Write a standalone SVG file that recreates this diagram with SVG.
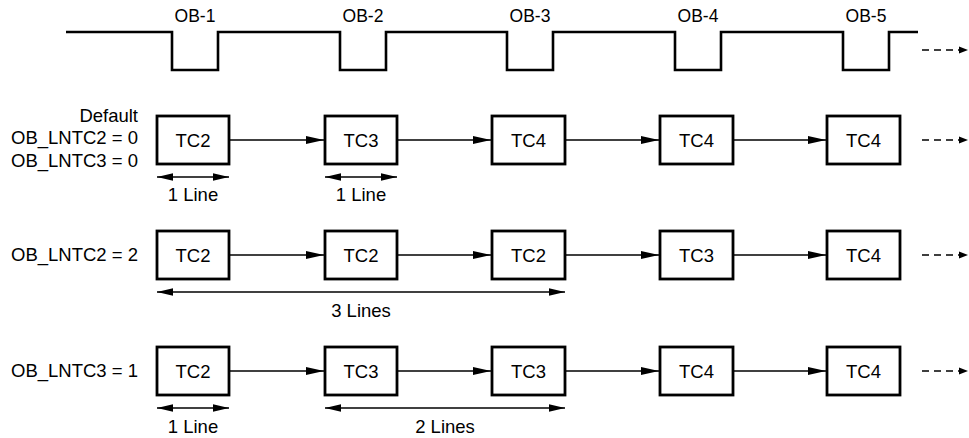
<svg xmlns="http://www.w3.org/2000/svg" width="969" height="438" viewBox="0 0 969 438">
<defs>
<style>
text{font-family:"Liberation Sans",Arial,Helvetica,sans-serif;font-size:18.5px;fill:#000}
.ob{font-size:17.5px}
.lbl{text-anchor:end}
.mid{text-anchor:middle}
.box{fill:#fff;stroke:#000;stroke-width:2.8}
.wave{fill:none;stroke:#000;stroke-width:2.6}
.conn{fill:none;stroke:#000;stroke-width:1.3}
.dash{fill:none;stroke:#000;stroke-width:1.3;stroke-dasharray:7 5}
</style>
<marker id="ah" markerUnits="userSpaceOnUse" markerWidth="19" markerHeight="10" refX="18" refY="5" orient="auto">
<path d="M0,1 L18,5 L0,9 Z" fill="#000"/>
</marker>
<marker id="ahs" markerUnits="userSpaceOnUse" markerWidth="10" markerHeight="8" refX="9" refY="4" orient="auto">
<path d="M0,0.5 L9,4 L0,7.5 Z" fill="#000"/>
</marker>
<marker id="me" markerUnits="userSpaceOnUse" markerWidth="17" markerHeight="10" refX="16" refY="5" orient="auto">
<path d="M0,1.3 L16,5 L0,8.7 Z" fill="#000"/>
</marker>
<marker id="ms" markerUnits="userSpaceOnUse" markerWidth="17" markerHeight="10" refX="0" refY="5" orient="auto">
<path d="M16,1.3 L0,5 L16,8.7 Z" fill="#000"/>
</marker>
</defs>

<g id="waveform">
<path class="wave" d="M66,32 H172 V70 H218 V32 H340 V70 H386 V32 H507 V70 H553 V32 H675 V70 H721 V32 H843 V70 H889 V32 H918"/>
<text class="mid ob" x="195" y="22">OB-1</text>
<text class="mid ob" x="363" y="22">OB-2</text>
<text class="mid ob" x="530" y="22">OB-3</text>
<text class="mid ob" x="698" y="22">OB-4</text>
<text class="mid ob" x="866" y="22">OB-5</text>
</g>

<g id="row-labels">
<text class="lbl" x="138" y="122">Default</text>
<text class="lbl" x="138" y="144">OB_LNTC2 = 0</text>
<text class="lbl" x="138" y="166.5">OB_LNTC3 = 0</text>
<text class="lbl" x="138" y="261">OB_LNTC2 = 2</text>
<text class="lbl" x="138" y="377">OB_LNTC3 = 1</text>
</g>

<g id="r1n1"><rect class="box" x="157" y="116" width="72" height="48"/><text class="mid" x="193" y="147">TC2</text></g>
<g id="r1n2"><rect class="box" x="325" y="116" width="72" height="48"/><text class="mid" x="361" y="147">TC3</text></g>
<g id="r1n3"><rect class="box" x="492" y="116" width="73" height="48"/><text class="mid" x="528.5" y="147">TC4</text></g>
<g id="r1n4"><rect class="box" x="660" y="116" width="73" height="48"/><text class="mid" x="696.5" y="147">TC4</text></g>
<g id="r1n5"><rect class="box" x="827" y="116" width="73" height="48"/><text class="mid" x="863.5" y="147">TC4</text></g>

<g id="r2n1"><rect class="box" x="157" y="231" width="72" height="48"/><text class="mid" x="193" y="262">TC2</text></g>
<g id="r2n2"><rect class="box" x="325" y="231" width="72" height="48"/><text class="mid" x="361" y="262">TC2</text></g>
<g id="r2n3"><rect class="box" x="492" y="231" width="73" height="48"/><text class="mid" x="528.5" y="262">TC2</text></g>
<g id="r2n4"><rect class="box" x="660" y="231" width="73" height="48"/><text class="mid" x="696.5" y="262">TC3</text></g>
<g id="r2n5"><rect class="box" x="827" y="231" width="73" height="48"/><text class="mid" x="863.5" y="262">TC4</text></g>

<g id="r3n1"><rect class="box" x="157" y="347" width="72" height="48"/><text class="mid" x="193" y="378">TC2</text></g>
<g id="r3n2"><rect class="box" x="325" y="347" width="72" height="48"/><text class="mid" x="361" y="378">TC3</text></g>
<g id="r3n3"><rect class="box" x="492" y="347" width="73" height="48"/><text class="mid" x="528.5" y="378">TC3</text></g>
<g id="r3n4"><rect class="box" x="660" y="347" width="73" height="48"/><text class="mid" x="696.5" y="378">TC4</text></g>
<g id="r3n5"><rect class="box" x="827" y="347" width="73" height="48"/><text class="mid" x="863.5" y="378">TC4</text></g>

<g id="connectors">
<line class="conn" x1="230" y1="140" x2="324" y2="140" marker-end="url(#ah)"/>
<line class="conn" x1="398" y1="140" x2="491" y2="140" marker-end="url(#ah)"/>
<line class="conn" x1="566" y1="140" x2="659" y2="140" marker-end="url(#ah)"/>
<line class="conn" x1="734" y1="140" x2="826" y2="140" marker-end="url(#ah)"/>

<line class="conn" x1="230" y1="255" x2="324" y2="255" marker-end="url(#ah)"/>
<line class="conn" x1="398" y1="255" x2="491" y2="255" marker-end="url(#ah)"/>
<line class="conn" x1="566" y1="255" x2="659" y2="255" marker-end="url(#ah)"/>
<line class="conn" x1="734" y1="255" x2="826" y2="255" marker-end="url(#ah)"/>

<line class="conn" x1="230" y1="371" x2="324" y2="371" marker-end="url(#ah)"/>
<line class="conn" x1="398" y1="371" x2="491" y2="371" marker-end="url(#ah)"/>
<line class="conn" x1="566" y1="371" x2="659" y2="371" marker-end="url(#ah)"/>
<line class="conn" x1="734" y1="371" x2="826" y2="371" marker-end="url(#ah)"/>

<line class="dash" x1="922" y1="50" x2="968" y2="50" marker-end="url(#ahs)"/>
<line class="dash" x1="922" y1="140" x2="968" y2="140" marker-end="url(#ahs)"/>
<line class="dash" x1="922" y1="255" x2="968" y2="255" marker-end="url(#ahs)"/>
<line class="dash" x1="922" y1="371" x2="968" y2="371" marker-end="url(#ahs)"/>

<line class="conn" x1="157" y1="177" x2="229" y2="177" marker-start="url(#ms)" marker-end="url(#me)"/>
<line class="conn" x1="325" y1="177" x2="397" y2="177" marker-start="url(#ms)" marker-end="url(#me)"/>
<line class="conn" x1="157" y1="292" x2="565" y2="292" marker-start="url(#ms)" marker-end="url(#me)"/>
<line class="conn" x1="157" y1="408" x2="229" y2="408" marker-start="url(#ms)" marker-end="url(#me)"/>
<line class="conn" x1="325" y1="408" x2="565" y2="408" marker-start="url(#ms)" marker-end="url(#me)"/>
</g>

<g id="span-labels">
<text class="mid" x="193" y="201">1 Line</text>
<text class="mid" x="361" y="201">1 Line</text>
<text class="mid" x="361" y="317">3 Lines</text>
<text class="mid" x="193" y="433">1 Line</text>
<text class="mid" x="445" y="433">2 Lines</text>
</g>
</svg>
